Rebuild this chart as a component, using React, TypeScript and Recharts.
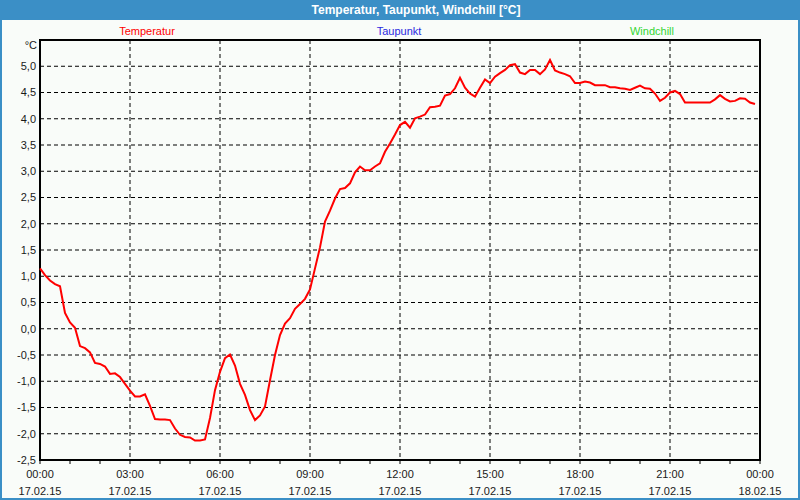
import React from 'react';
import { LineChart, Line, XAxis, YAxis, CartesianGrid, ReferenceArea } from 'recharts';

// Temperatur every 10 minutes, 17.02.15 00:00 .. 23:50
const temperatur = [
  1.15, 1.02, 0.92, 0.85, 0.81, 0.3, 0.12, 0.02, -0.33, -0.37,
  -0.45, -0.65, -0.67, -0.72, -0.86, -0.85, -0.92, -1.05, -1.18, -1.29,
  -1.29, -1.25, -1.47, -1.72, -1.73, -1.73, -1.74, -1.9, -2.02, -2.06,
  -2.07, -2.13, -2.13, -2.11, -1.7, -1.17, -0.82, -0.56, -0.49, -0.7,
  -1.05, -1.26, -1.55, -1.74, -1.65, -1.48, -0.98, -0.5, -0.12, 0.1,
  0.2, 0.38, 0.47, 0.57, 0.75, 1.15, 1.55, 2.04, 2.25, 2.48,
  2.66, 2.68, 2.77, 2.98, 3.09, 3.02, 3.02, 3.09, 3.15, 3.37,
  3.53, 3.7, 3.88, 3.94, 3.83, 4.01, 4.04, 4.08, 4.22, 4.23,
  4.25, 4.44, 4.47, 4.58, 4.78, 4.59, 4.48, 4.42, 4.59, 4.75,
  4.68, 4.8, 4.87, 4.93, 5.02, 5.04, 4.88, 4.85, 4.93, 4.93,
  4.85, 4.94, 5.12, 4.92, 4.88, 4.85, 4.81, 4.68, 4.68, 4.71,
  4.69, 4.64, 4.64, 4.64, 4.6, 4.6, 4.58, 4.57, 4.55, 4.59,
  4.63, 4.58, 4.57, 4.48, 4.34, 4.4, 4.5, 4.53, 4.47, 4.31,
  4.31, 4.31, 4.31, 4.31, 4.31, 4.37, 4.45, 4.38, 4.33, 4.34,
  4.39, 4.38, 4.31, 4.28,
];

const seriesNames = ['Temperatur', 'Taupunkt', 'Windchill'];
const seriesColors = ['#ff0000', '#2a2ae0', '#33d633'];
const yTicks = [-2.5, -2, -1.5, -1, -0.5, 0, 0.5, 1, 1.5, 2, 2.5, 3, 3.5, 4, 4.5, 5];
const hourTicks = Array.from({ length: 25 }, (_, h) => h * 60);
const gridMinutes = [180, 360, 540, 720, 900, 1080, 1260];

const data = temperatur.map((t, i) => ({ min: i * 10, t }));

const font = '"Liberation Sans", Arial, sans-serif';

const TimeTick = ({ x, y, payload }: any) => {
  const v = payload.value;
  if (v % 180 !== 0) return null;
  const h = Math.floor(v / 60) % 24;
  const date = v >= 1440 ? '18.02.15' : '17.02.15';
  return (
    <g>
      <text x={x} y={y + 12} textAnchor="middle" fontSize={11} fill="#1a1a1a" fontFamily={font}>
        {String(h).padStart(2, '0')}:00
      </text>
      <text x={x} y={y + 29} textAnchor="middle" fontSize={11} fill="#1a1a1a" fontFamily={font}>
        {date}
      </text>
    </g>
  );
};

export default function App() {
  return (
    <div style={{ position: 'absolute', left: 0, top: 0, width: 800, height: 500, background: '#3b8fc6', fontFamily: font }}>
      <div style={{ position: 'absolute', left: 2, top: 20, width: 796, height: 478, background: '#f9fcf9' }} />
      <div style={{ position: 'absolute', left: 216, top: 0, width: 400, height: 20, lineHeight: '20px', textAlign: 'center', color: '#fff', fontWeight: 'bold', fontSize: 12 }}>
        Temperatur, Taupunkt, Windchill [°C]
      </div>
      {seriesNames.map((n, i) => (
        <div key={n} style={{ position: 'absolute', left: [147, 399, 652][i] - 60, top: 25, width: 120, textAlign: 'center', fontSize: 11, color: seriesColors[i] }}>
          {n}
        </div>
      ))}
      <div style={{ position: 'absolute', left: 0, top: 39, width: 37, textAlign: 'right', fontSize: 11, color: '#1a1a1a' }}>°C</div>
      <div style={{ position: 'absolute', left: 0, top: 0 }}>
        <LineChart width={800} height={500} data={data} margin={{ top: 40, right: 40, bottom: 0, left: 0 }}>
          <CartesianGrid
            stroke="#000"
            strokeDasharray="4 3"
            verticalValues={gridMinutes}
            horizontalValues={yTicks}
          />
          <XAxis
            dataKey="min"
            type="number"
            domain={[0, 1440]}
            ticks={hourTicks}
            interval={0}
            height={40}
            tickSize={4}
            tickMargin={2}
            stroke="#000"
            tick={<TimeTick />}
          />
          <YAxis
            type="number"
            domain={[-2.5, 5.5]}
            ticks={yTicks}
            interval={0}
            width={40}
            tickSize={0}
            tickMargin={4}
            axisLine={false}
            tick={{ fontSize: 11, fill: '#1a1a1a', fontFamily: font }}
            tickFormatter={(v: number) => v.toFixed(1).replace('.', ',')}
          />
          <ReferenceArea x1={0} x2={1440} y1={-2.5} y2={5.5} fill="none" stroke="#000" strokeWidth={2} />
          <Line
            type="linear"
            dataKey="t"
            stroke="#ff0000"
            strokeWidth={2}
            dot={false}
            isAnimationActive={false}
          />
        </LineChart>
      </div>
    </div>
  );
}
